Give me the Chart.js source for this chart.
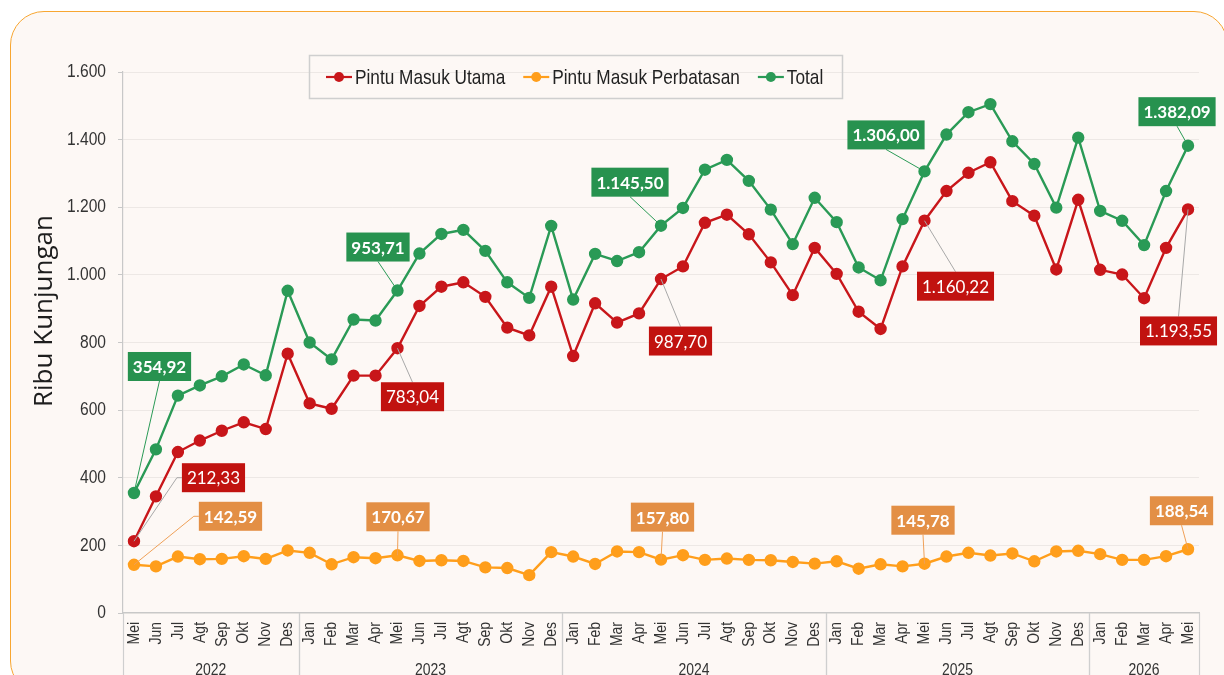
<!DOCTYPE html>
<html><head><meta charset="utf-8">
<script src="https://cdn.jsdelivr.net/npm/chart.js@4.4.1/dist/chart.umd.min.js"></script>
<style>
html,body{margin:0;padding:0;background:#fff;width:1224px;height:675px;overflow:hidden}
#card{position:absolute;left:10px;top:11px;width:1218px;height:684px;border:1.5px solid #F8A631;border-radius:34px;background:#FDF8F5;box-sizing:border-box}
canvas{position:absolute;left:0;top:0}
</style></head><body>
<div id="card"></div>
<canvas id="c" width="1224" height="675"></canvas>
<script>
const months = ['Mei','Jun','Jul','Agt','Sep','Okt','Nov','Des',
 'Jan','Feb','Mar','Apr','Mei','Jun','Jul','Agt','Sep','Okt','Nov','Des',
 'Jan','Feb','Mar','Apr','Mei','Jun','Jul','Agt','Sep','Okt','Nov','Des',
 'Jan','Feb','Mar','Apr','Mei','Jun','Jul','Agt','Sep','Okt','Nov','Des',
 'Jan','Feb','Mar','Apr','Mei'];
const yearLabels = ['2022','2023','2024','2025','2026'];
const yearCounts = [8,12,12,12,5];
const seriesNames = ['Pintu Masuk Utama','Pintu Masuk Perbatasan','Total'];
const utama = [212.33,345,476,510,539,564,544,767,
 620,604,702,702,783.04,908,965,978,935,844,821,965,
 760,916,859,886,987.70,1025,1154,1178,1120,1037,940,1080,
 1003,891,840,1025,1160.22,1248,1302,1333,1218,1175,1016,1222,
 1015,1001,931,1080,1193.55];
const perbatasan = [142.59,138,167,159,160,168,160,185,
 178,144,165,162,170.67,154,156,154,135,133,112,180,
 167,145,182,180,157.80,171,157,161,157,156,151,146,
 153,131,144,138,145.78,167,178,170,176,153,182,184,
 174,157,157,168,188.54];
const total = [354.92,484,643,673,700,735,703,953,
 800,750,868,865,953.71,1063,1121,1133,1071,978,932,1145,
 927,1062,1041,1067,1145.50,1198,1311,1340,1278,1193,1091,1228,
 1156,1022,984,1165,1306.00,1415,1481,1505,1395,1328,1199,1406,
 1189,1160,1088,1248,1382.09];
const yTicks = [0,200,400,600,800,1000,1200,1400,1600];
const labelledIdx = [0,12,24,36,48];
const axisTitle = 'Ribu Kunjungan';

const SANS = '"Liberation Sans",Arial,sans-serif';
const SQ = 0.82; // horizontal squeeze to mimic a narrow face
const COL = {
  red:'#C8161A', redBox:'#C1120F',
  orange:'#FF9E1B', orangeBox:'#E38F45',
  green:'#2A9A56', greenBox:'#27924F'
};

function fmt(v, dec){
  const s = v.toFixed(dec);
  let [i,d] = s.split('.');
  i = i.replace(/\B(?=(\d{3})+(?!\d))/g,'.');
  return d ? i + ',' + d : i;
}
function narrowText(ctx, txt, x, y, size, align, baseline, rot){
  ctx.save();
  ctx.translate(x, y);
  if (rot) ctx.rotate(rot);
  ctx.scale(SQ, 1);
  ctx.font = size + 'px ' + SANS;
  ctx.textAlign = align; ctx.textBaseline = baseline;
  ctx.fillText(txt, 0, 0);
  const w = ctx.measureText(txt).width * SQ;
  ctx.restore();
  return w;
}

// label placement (style): offsets of box centre relative to its point, per dataset
const labelStyle = {
  0: {box:COL.redBox, leader:'#A8A8A8', weight:'normal',
      off:[[79.5,-63.5,'elbow'],[15,48.5,'top'],[19.5,62,'top'],[31,65.5,'top'],[-9.5,121.5,'top']]},
  1: {box:COL.orangeBox, leader:'#EFA058', weight:'bold',
      off:[[96.5,-48.5,'elbow'],[0.5,-38.5,'bottom'],[1.5,-42.5,'bottom'],[-1.5,-43.5,'bottom'],[-6.5,-38.5,'bottom']]},
  2: {box:COL.greenBox, leader:COL.green, weight:'bold',
      off:[[25.5,-126.5,'bottom'],[-19.5,-43.5,'bottom'],[-31,-43.5,'bottom'],[-38.5,-36.5,'bottom'],[-11,-34,'bottom']]}
};

const decor = {
  id:'decor',
  afterDraw(chart){
    const ctx = chart.ctx, ca = chart.chartArea, xs = chart.scales.x, ys = chart.scales.y;
    ctx.save();
    ctx.fillStyle = '#333';
    // y tick labels
    ys.ticks.forEach(t => {
      narrowText(ctx, fmt(t.value, 0), 106, ys.getPixelForValue(t.value), 19, 'right', 'middle', 0);
    });
    // x tick labels (rotated)
    months.forEach((m, i) => {
      narrowText(ctx, m, xs.getPixelForValue(i), 622, 17, 'right', 'middle', -Math.PI/2);
    });
    // year separators and labels
    ctx.strokeStyle = '#CFCFCF'; ctx.lineWidth = 1.2;
    let s = 0;
    yearLabels.forEach((yl, k) => {
      const e = s + yearCounts[k] - 1;
      const left = s === 0 ? ca.left : (xs.getPixelForValue(s-1) + xs.getPixelForValue(s)) / 2;
      const right = e === months.length - 1 ? ca.right : (xs.getPixelForValue(e) + xs.getPixelForValue(e+1)) / 2;
      [left, right].forEach(xx => {
        ctx.beginPath(); ctx.moveTo(Math.round(xx)+0.5, ca.bottom); ctx.lineTo(Math.round(xx)+0.5, 675); ctx.stroke();
      });
      ctx.fillStyle = '#333';
      narrowText(ctx, yl, (left + right) / 2, 670, 17, 'center', 'middle', 0);
      s = e + 1;
    });
    // axis title
    ctx.save();
    ctx.translate(45, 311); ctx.rotate(-Math.PI/2);
    ctx.font = '26px "Open Sans", sans-serif'; ctx.fillStyle = '#1E1E1E';
    ctx.textAlign = 'center'; ctx.textBaseline = 'middle';
    ctx.fillText(axisTitle, 0, 0);
    ctx.restore();
    // legend
    const lx = 309, ly = 55, lw = 533, lh = 43;
    ctx.strokeStyle = '#CFCFCF'; ctx.lineWidth = 1.5;
    ctx.strokeRect(lx + 0.5, ly + 0.5, lw, lh);
    let x = 326; const cy = 77;
    chart.data.datasets.forEach(ds => {
      ctx.strokeStyle = ds.borderColor; ctx.lineWidth = 2.2;
      ctx.beginPath(); ctx.moveTo(x, cy); ctx.lineTo(x + 26, cy); ctx.stroke();
      ctx.fillStyle = ds.borderColor;
      ctx.beginPath(); ctx.arc(x + 13, cy, 5, 0, Math.PI*2); ctx.fill();
      ctx.fillStyle = '#222';
      const w = narrowText(ctx, ds.label, x + 29, cy + 1, 21, 'left', 'middle', 0);
      x += 29 + w + 18;
    });
    ctx.restore();
  },
  afterDatasetsDraw(chart){
    const ctx = chart.ctx;
    ctx.save();
    [2,0,1].forEach(di => {
      const st = labelStyle[di];
      const meta = chart.getDatasetMeta(di);
      labelledIdx.forEach((idx, j) => {
        const pt = meta.data[idx];
        const v = chart.data.datasets[di].data[idx];
        const [dx, dy, mode] = st.off[j];
        const txt = fmt(v, 2);
        ctx.font = st.weight + ' 17px Lato, sans-serif';
        const tw = ctx.measureText(txt).width;
        const bw = tw + 10, bh = 29;
        const cx = pt.x + dx, cy = pt.y + dy;
        const bx = cx - bw/2, by = cy - bh/2;
        ctx.strokeStyle = st.leader; ctx.lineWidth = 1;
        ctx.beginPath();
        ctx.moveTo(pt.x, pt.y);
        if (mode === 'elbow') { ctx.lineTo(bx - 5, cy); ctx.lineTo(bx, cy); }
        else if (mode === 'top') { ctx.lineTo(cx, by); }
        else { ctx.lineTo(cx, by + bh); }
        ctx.stroke();
        ctx.fillStyle = st.box;
        ctx.fillRect(bx, by, bw, bh);
        ctx.fillStyle = '#FFFFFF';
        ctx.textAlign = 'center'; ctx.textBaseline = 'middle';
        ctx.fillText(txt, cx, cy + 1);
      });
    });
    ctx.restore();
  }
};

function mkDs(label, data, color){
  return {label, data, borderColor:color, backgroundColor:color,
    pointBackgroundColor:color, pointBorderColor:color,
    borderWidth:2.4, pointRadius:5, pointHoverRadius:5, tension:0};
}

new Chart(document.getElementById('c'), {
  type:'line',
  data:{labels:months, datasets:[
    mkDs(seriesNames[0], utama, COL.red),
    mkDs(seriesNames[1], perbatasan, COL.orange),
    mkDs(seriesNames[2], total, COL.green)
  ]},
  options:{
    responsive:false, animation:false, events:[],
    layout:{padding:{left:0, top:72, right:25, bottom:0}},
    plugins:{legend:{display:false}, tooltip:{enabled:false}},
    scales:{
      x:{
        offset:true,
        grid:{display:false, drawTicks:false},
        border:{display:true, color:'#C8C8C8', width:1.2},
        ticks:{autoSkip:false, maxRotation:90, minRotation:90, padding:9,
               color:'rgba(0,0,0,0)', font:{family:SANS, size:14}},
        afterFit(sc){ sc.height = 62; }
      },
      y:{
        min:0, max:1600,
        afterBuildTicks(sc){ sc.ticks = yTicks.map(v => ({value:v})); },
        grid:{color:'#EDE8E5', tickColor:'#C8C8C8', tickLength:5, lineWidth:1},
        border:{display:true, color:'#C8C8C8', width:1.2},
        ticks:{padding:12, color:'rgba(0,0,0,0)', font:{family:SANS, size:16},
               callback:v => fmt(v, 0)},
        afterFit(sc){ sc.width = 123; }
      }
    }
  },
  plugins:[decor]
});
</script>
</body></html>
